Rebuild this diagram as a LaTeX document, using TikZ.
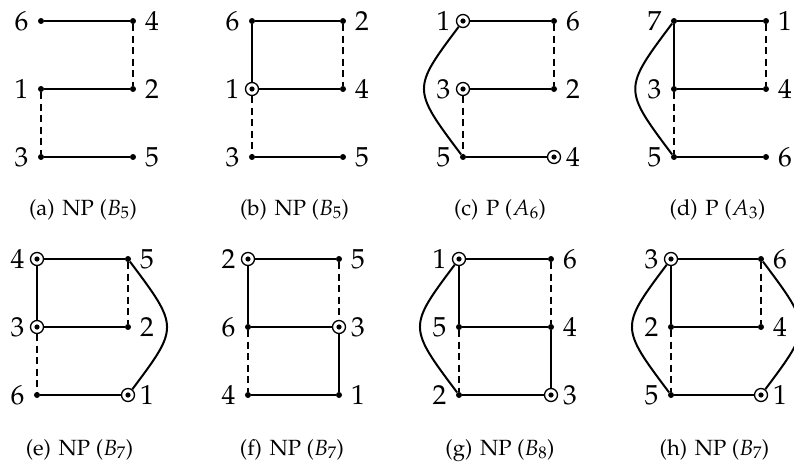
\documentclass[tikz,border=0pt]{standalone}
\usepackage[T1]{fontenc}
\usepackage{mathpazo}
\usetikzlibrary{calc}
\newcommand\lblfont{\fontsize{27.5}{32}\selectfont}
\newcommand\capfont{\fontsize{22}{26}\selectfont}
\tikzset{
  x=1pt, y=-1pt,
  dot/.style={circle, fill=black, inner sep=0pt, minimum size=6pt},
  ring/.style={circle, draw=black, fill=white, line width=1.3pt, inner sep=0pt, minimum size=13pt,
    path picture={\fill[black] (path picture bounding box.center) circle (2.6pt);}},
  edge/.style={line width=2pt},
  dedge/.style={line width=2pt, dash pattern=on 7pt off 4.5pt},
  lbll/.style={anchor=east, xshift=-12.5pt, inner sep=0pt, font=\lblfont},
  lblr/.style={anchor=west, xshift=12pt, inner sep=0pt, font=\lblfont},
  captext/.style={anchor=base, inner sep=0pt, font=\capfont},
}
\newcommand\V[6]{\node[#2] (#1) at (#3,#4) {}; \node[lbl#6] (#1-l) at (#1.center) {#5};}
\begin{document}
\begin{tikzpicture}
\useasboundingbox (0,0) rectangle (794,463);
% (a)
\begin{scope}[shift={(41,21)}]
\V{aTL}{dot}{0}{0}{6}{l}
\V{aTR}{dot}{92}{0}{4}{r}
\V{aML}{dot}{0}{68}{1}{l}
\V{aMR}{dot}{92}{68}{2}{r}
\V{aBL}{dot}{0}{136}{3}{l}
\V{aBR}{dot}{92}{136}{5}{r}
\draw[edge] (aTL) -- (aTR) (aML) -- (aMR) (aBL) -- (aBR);
\draw[dedge] (aTR) -- (aMR) (aML) -- (aBL);
\end{scope}
% (b)
\begin{scope}[shift={(252,21)}]
\V{bTL}{dot}{0}{0}{6}{l}
\V{bTR}{dot}{91}{0}{2}{r}
\V{bML}{ring}{0}{68}{1}{l}
\V{bMR}{dot}{91}{68}{4}{r}
\V{bBL}{dot}{0}{136}{3}{l}
\V{bBR}{dot}{91}{136}{5}{r}
\draw[edge] (bTL) -- (bTR) (bTL) -- (bML) (bML) -- (bMR) (bBL) -- (bBR);
\draw[dedge] (bTR) -- (bMR) (bML) -- (bBL);
\end{scope}
% (c)
\begin{scope}[shift={(463,21)}]
\V{cTL}{ring}{0}{0}{1}{l}
\V{cTR}{dot}{91}{0}{6}{r}
\V{cML}{ring}{0}{68}{3}{l}
\V{cMR}{dot}{91}{68}{2}{r}
\V{cBL}{dot}{0}{136}{5}{l}
\V{cBR}{ring}{91}{136}{4}{r}
\draw[edge] (cTL) -- (cTR) (cML) -- (cMR) (cBL) -- (cBR);
\draw[dedge] (cTR) -- (cMR) (cML) -- (cBL);
\draw[edge] (cTL) .. controls (-51,68) .. (cBL);
\end{scope}
% (d)
\begin{scope}[shift={(674,21)}]
\V{dTL}{dot}{0}{0}{7}{l}
\V{dTR}{dot}{92}{0}{1}{r}
\V{dML}{dot}{0}{68}{3}{l}
\V{dMR}{dot}{92}{68}{4}{r}
\V{dBL}{dot}{0}{136}{5}{l}
\V{dBR}{dot}{92}{136}{6}{r}
\draw[edge] (dTL) -- (dTR) (dTL) -- (dML) (dML) -- (dMR) (dBL) -- (dBR);
\draw[dedge] (dTR) -- (dMR) (dML) -- (dBL);
\draw[edge] (dTL) .. controls (-51,68) .. (dBL);
\end{scope}
% (e)
\begin{scope}[shift={(37,259)}]
\V{eTL}{ring}{0}{0}{4}{l}
\V{eTR}{dot}{91}{0}{5}{r}
\V{eML}{ring}{0}{68}{3}{l}
\V{eMR}{dot}{91}{68}{2}{r}
\V{eBL}{dot}{0}{136}{6}{l}
\V{eBR}{ring}{91}{136}{1}{r}
\draw[edge] (eTL) -- (eTR) (eTL) -- (eML) (eML) -- (eMR) (eBL) -- (eBR);
\draw[dedge] (eTR) -- (eMR) (eML) -- (eBL);
\draw[edge] (eTR) .. controls (142,68) .. (eBR);
\end{scope}
% (f)
\begin{scope}[shift={(248,259)}]
\V{fTL}{ring}{0}{0}{2}{l}
\V{fTR}{dot}{91}{0}{5}{r}
\V{fML}{dot}{0}{68}{6}{l}
\V{fMR}{ring}{91}{68}{3}{r}
\V{fBL}{dot}{0}{136}{4}{l}
\V{fBR}{dot}{91}{136}{1}{r}
\draw[edge] (fTL) -- (fTR) (fTL) -- (fML) (fML) -- (fMR) (fMR) -- (fBR) (fBL) -- (fBR);
\draw[dedge] (fTR) -- (fMR) (fML) -- (fBL);
\end{scope}
% (g)
\begin{scope}[shift={(459,259)}]
\V{gTL}{ring}{0}{0}{1}{l}
\V{gTR}{dot}{92}{0}{6}{r}
\V{gML}{dot}{0}{68}{5}{l}
\V{gMR}{dot}{92}{68}{4}{r}
\V{gBL}{dot}{0}{136}{2}{l}
\V{gBR}{ring}{92}{136}{3}{r}
\draw[edge] (gTL) -- (gTR) (gTL) -- (gML) (gML) -- (gMR) (gMR) -- (gBR) (gBL) -- (gBR);
\draw[dedge] (gTR) -- (gMR) (gML) -- (gBL);
\draw[edge] (gTL) .. controls (-51,68) .. (gBL);
\end{scope}
% (h)
\begin{scope}[shift={(671,259)}]
\V{hTL}{ring}{0}{0}{3}{l}
\V{hTR}{dot}{90}{0}{6}{r}
\V{hML}{dot}{0}{68}{2}{l}
\V{hMR}{dot}{90}{68}{4}{r}
\V{hBL}{dot}{0}{136}{5}{l}
\V{hBR}{ring}{90}{136}{1}{r}
\draw[edge] (hTL) -- (hTR) (hTL) -- (hML) (hML) -- (hMR) (hBL) -- (hBR);
\draw[dedge] (hTR) -- (hMR) (hML) -- (hBL);
\draw[edge] (hTL) .. controls (-51,68) .. (hBL);
\draw[edge] (hTR) .. controls (141,68) .. (hBR);
\end{scope}
% captions
\node[captext] (capa) at (83,215) {(a)\hspace{0.35em}NP ($B_5$)};
\node[captext] (capb) at (294.5,215) {(b)\hspace{0.35em}NP ($B_5$)};
\node[captext] (capc) at (500,215) {(c)\hspace{0.35em}P ($A_6$)};
\node[captext] (capd) at (717.5,215) {(d)\hspace{0.35em}P ($A_3$)};
\node[captext] (cape) at (79.5,455) {(e)\hspace{0.35em}NP ($B_7$)};
\node[captext] (capf) at (292,455) {(f)\hspace{0.35em}NP ($B_7$)};
\node[captext] (capg) at (500,455) {(g)\hspace{0.35em}NP ($B_8$)};
\node[captext] (caph) at (714.5,455) {(h)\hspace{0.35em}NP ($B_7$)};
\end{tikzpicture}
\end{document}
